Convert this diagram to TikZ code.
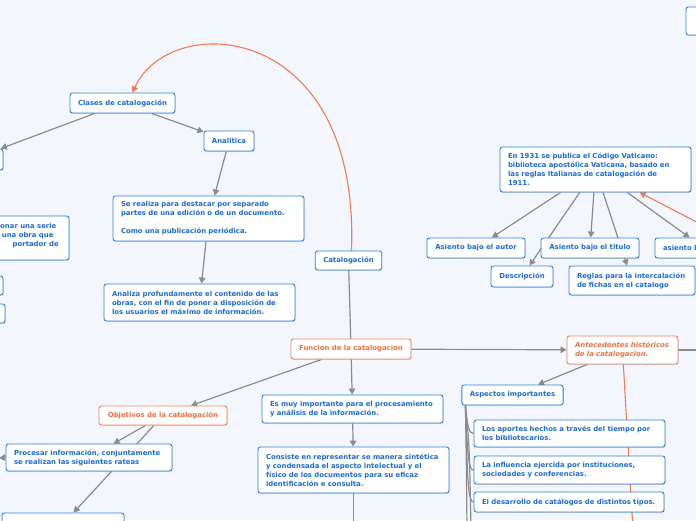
\documentclass[tikz,border=0pt]{standalone}
\usepackage{fontspec}
\setmainfont{DejaVu Sans}
\usetikzlibrary{arrows.meta,shadows}

\definecolor{pagebg}{RGB}{243,246,253}
\definecolor{nodeblue}{RGB}{44,128,220}
\definecolor{textblue}{RGB}{28,108,212}
\definecolor{nodeorange}{RGB}{238,128,90}
\definecolor{textorange}{RGB}{238,112,62}
\definecolor{linkgray}{RGB}{140,140,142}
\definecolor{linkorange}{RGB}{244,122,78}

\pgfdeclarelayer{edges}
\pgfsetlayers{edges,main}

\begin{document}
\begin{tikzpicture}[x=1pt, y=-1pt,
    >={Triangle[length=6pt,width=6.5pt]},
    topic/.style={draw=nodeblue, fill=white, line width=0.9pt, rounded corners=2.5pt,
      text=textblue, font=\bfseries\fontsize{6.9}{9}\selectfont,
      inner xsep=8pt, inner ysep=2pt, align=left,
      drop shadow={shadow xshift=0.5pt, shadow yshift=-0.9pt, opacity=0.25, fill=black!60}},
    maintopic/.style={topic, draw=nodeorange, text=textorange},
    fragment/.style={anchor=base west, inner sep=0pt, text=textblue,
      font=\bfseries\fontsize{6.9}{9}\selectfont},
    link/.style={draw=linkgray, line width=1.2pt},
    rellink/.style={draw=linkorange, line width=1.1pt}]

  \useasboundingbox (0,0) rectangle (696,520);

  % Centro
  \node[topic, minimum width=65, minimum height=19] (catalogacion) at (348.5,260.5) {Catalogación};

  % Clases de catalogacion
  \node[topic, minimum width=105, minimum height=20] (clases) at (122.5,103) {Clases de catalogación};
  \node[topic, minimum width=63, minimum height=21] (boxA) at (-28.5,159.5) {};
  \node[topic, minimum width=50, minimum height=20] (analitica) at (229,141) {Analitica};
  \node[topic, text width=175, minimum height=45] (serealiza) at (208.5,218.5)
    {Se realiza para destacar por separado\\partes de una edición o de un documento.\\[9pt]Como una publicación periódica.};
  \node[topic, text width=175, minimum height=37] (analiza) at (199.5,302.5)
    {Analiza profundamente el contenido de las\\obras, con el fin de poner a disposición de\\los usuarios el máximo de información.};

  % Cajas cortadas a la izquierda
  \node[topic, minimum width=90, minimum height=44] (boxB) at (24,238) {};
  \node[fragment] (boxBa) at (0,228.5) {onar una serie};
  \node[fragment] (boxBb) at (1.7,237.5) {una obra que};
  \node[fragment] (boxBc) at (12.5,246.5) {portador de};
  \node[topic, minimum width=63, minimum height=19] (boxC) at (-28.5,285.5) {};
  \node[topic, minimum width=65, minimum height=19] (boxD) at (-27.5,313.5) {};

  % Funcion de la catalogacion
  \node[maintopic, minimum width=120, minimum height=20] (funcion) at (351,349) {Funcion de la catalogacion};
  \node[topic, text width=165, minimum height=28] (esmuy) at (352.5,409)
    {Es muy importante para el procesamiento\\y análisis de la información.};
  \node[topic, text width=175, minimum height=46] (consiste) at (353.5,470)
    {Consiste en representar se manera sintética\\y condensada el aspecto intelectual y el\\físico de los documentos para su eficaz\\identificación e consulta.};

  % Objetivos
  \node[maintopic, minimum width=128, minimum height=19] (objetivos) at (163,415.5) {Objetivos de la catalogación};
  \node[topic, text width=150, minimum height=27] (procesar) at (89,457.5)
    {Procesar información, conjuntamente\\se realizan las siguientes rateas};
  \node[topic, minimum width=122, minimum height=22] (bottombox) at (63,524) {};

  % Antecedentes
  \node[maintopic, text width=95, minimum height=28, font=\bfseries\itshape\fontsize{6.9}{9}\selectfont] (antecedentes) at (622.5,350)
    {Antecedentes históricos\\de la catalogacion.};
  \node[topic, minimum width=101, minimum height=20] (aspectos) at (512.5,395) {Aspectos importantes};
  \node[topic, text width=175, minimum height=27] (aportes) at (569.5,433.5)
    {Los aportes hechos a través del tiempo por\\los bibliotecarios.};
  \node[topic, text width=175, minimum height=28] (influencia) at (569.5,470)
    {La influencia ejercida por instituciones,\\sociedades y conferencias.};
  \node[topic, text width=174, minimum height=20] (desarrollo) at (569,502)
    {El desarrollo de catálogos de distintos tipos.};

  % Codigo Vaticano
  \node[topic, text width=175, minimum height=45] (vaticano) at (595.5,169.5)
    {En 1931 se publica el Código Vaticano:\\biblioteca apostólica Vaticana, basado en\\las reglas Italianas de catalogación de\\1911.};
  \node[topic, minimum width=98, minimum height=20] (autor) at (476,248) {Asiento bajo el autor};
  \node[topic, minimum width=98, minimum height=20] (titulo) at (590,248) {Asiento bajo el titulo};
  \node[topic, text width=82, minimum height=20] (asientob) at (704,248) {asiento b};
  \node[topic, minimum width=62, minimum height=21] (descripcion) at (522,276.5) {Descripción};
  \node[topic, text width=110, minimum height=29] (reglas) at (632,280.5)
    {Reglas para la intercalación\\de fichas en el catalogo};

  % Caja arriba a la derecha
  \node[topic, minimum width=44, minimum height=28] (topright) at (708,21) {};

  % Extremos fuera del dibujo
  \coordinate (leftend) at (-1,458);
  \coordinate (consend) at (353.5,530);
  \coordinate (antright) at (715,350);
  \coordinate (antdown) at (633,530);
  \coordinate (vatin) at (710,229);
  \coordinate (trunkA) at (467,530);
  \coordinate (trunkB) at (471,530);

  \begin{pgfonlayer}{edges}
    \fill[pagebg] (0,0) rectangle (696,520);

    % Conectores
    \draw[link,->] (clases) -- (boxA);
    \draw[link,->] (clases) -- (analitica);
    \draw[link,->] (analitica) -- (serealiza);
    \draw[link,->] (serealiza) -- (analiza);
    \draw[link] (catalogacion) -- (funcion);
    \draw[link,->] (funcion) -- (antecedentes);
    \draw[link,->] (funcion) -- (objetivos);
    \draw[link,->] (funcion) -- (esmuy);
    \draw[link,->] (esmuy) -- (consiste);
    \draw[link] (consiste) -- (consend);
    \draw[link,->] (objetivos) -- (procesar);
    \draw[link,->] (objetivos) -- (bottombox);
    \draw[link,->] (procesar.west) -- (leftend);
    \draw[link,->] (antecedentes) -- (aspectos);
    \draw[link] (antecedentes.east) -- (antright);
    \draw[link,->] (vaticano) -- (autor);
    \draw[link,->] (vaticano) -- (descripcion);
    \draw[link,->] (vaticano) -- (titulo);
    \draw[link,->] (vaticano) -- (reglas);
    \draw[link,->] (vaticano) -- (asientob);

    % Llave de aspectos
    \draw[link] ([xshift=4pt]aspectos.south west) .. controls +(2,20) and +(-5,0) .. (aportes.west);
    \draw[link] ([xshift=4pt]aspectos.south west) .. controls +(2,50) and +(-5,0) .. (influencia.west);
    \draw[link] ([xshift=4pt]aspectos.south west) .. controls +(2,82) and +(-5,0) .. (desarrollo.west);
    \draw[link] ([xshift=4pt]aspectos.south west) .. controls +(1,60) .. (trunkA);
    \draw[link] ([xshift=4pt]aspectos.south west) .. controls +(4,40) .. (trunkB);

    % Relaciones
    \draw[rellink,->] ([xshift=3pt]catalogacion.north) .. controls (360,20) and (170,10) .. ([xshift=10pt]clases.north);
    \draw[rellink,->] (vatin) -- (vaticano);
    \draw[rellink] (antecedentes) -- (antdown);
  \end{pgfonlayer}

\end{tikzpicture}
\end{document}
